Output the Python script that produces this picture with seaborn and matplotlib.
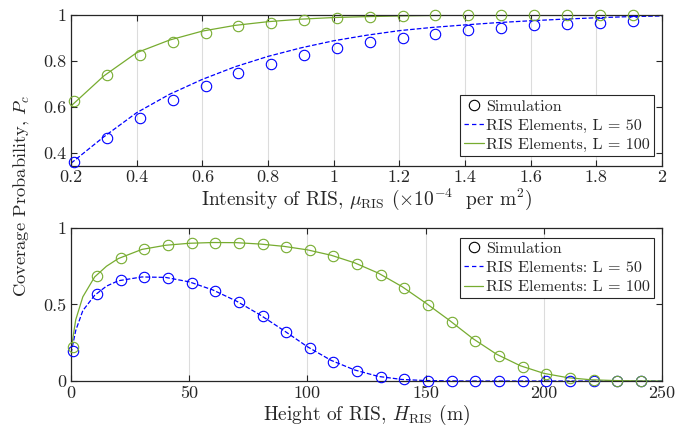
import numpy as np
import pandas as pd
import matplotlib
matplotlib.use("Agg")
import matplotlib.pyplot as plt
from matplotlib.lines import Line2D
import seaborn as sns

sns.set_theme(style="white")
plt.rcParams.update({
    "font.family": ["cmr10", "DejaVu Serif"],
    "mathtext.fontset": "cm",
    "axes.formatter.use_mathtext": True,
    "axes.unicode_minus": False,
})

BLUE = "#0000FF"
GREEN = "#77AC30"

# ---------------- top panel data ----------------
top_line_x = [0.2, 0.3, 0.4, 0.5, 0.6, 0.7, 0.8, 0.9, 1.0, 1.1, 1.2, 1.3, 1.4, 1.5, 1.6, 1.7, 1.8, 1.9, 2.0]
top_line_L50 = [0.355, 0.47, 0.575, 0.655, 0.72, 0.775, 0.82, 0.857, 0.888, 0.912, 0.932, 0.946,
                0.957, 0.967, 0.975, 0.982, 0.988, 0.993, 0.996]
top_line_L100 = [0.604, 0.735, 0.836, 0.891, 0.93, 0.955, 0.971, 0.982, 0.989, 0.993, 0.996, 0.998,
                 0.999, 0.9995, 0.9997, 0.9998, 0.9999, 1.0, 1.0]
top_sim_x = [0.21, 0.31, 0.41, 0.51, 0.61, 0.71, 0.81, 0.91, 1.01, 1.11, 1.21, 1.31, 1.41, 1.51,
             1.61, 1.71, 1.81, 1.91]
top_sim_L50 = [0.36, 0.464, 0.552, 0.63, 0.693, 0.746, 0.788, 0.826, 0.855, 0.883, 0.901, 0.919,
               0.933, 0.943, 0.955, 0.961, 0.967, 0.974]
top_sim_L100 = [0.626, 0.74, 0.826, 0.883, 0.923, 0.951, 0.967, 0.978, 0.987, 0.993, 0.997, 0.998,
                0.998, 0.999, 0.999, 0.999, 0.999, 0.999]
top_xticks = [0.2, 0.4, 0.6, 0.8, 1.0, 1.2, 1.4, 1.6, 1.8, 2.0]
top_xticklabels = ["0.2", "0.4", "0.6", "0.8", "1", "1.2", "1.4", "1.6", "1.8", "2"]
top_yticks = [0.4, 0.6, 0.8, 1.0]
top_yticklabels = ["0.4", "0.6", "0.8", "1"]

# ---------------- bottom panel data ----------------
bot_line_x = [0, 2, 5, 10, 15, 20, 30, 40, 50, 60, 70, 80, 90, 100, 110, 120, 130, 140, 150,
              160, 170, 180, 190, 200, 210, 220, 230, 240, 250]
bot_line_L50 = [0.18, 0.33, 0.46, 0.56, 0.62, 0.655, 0.68, 0.677, 0.648, 0.595, 0.522, 0.432,
                0.33, 0.224, 0.135, 0.072, 0.03, 0.01, 0.003, 0.001, 0.0, 0.0, 0.0, 0.0, 0.0,
                0.0, 0.0, 0.0, 0.0]
bot_line_L100 = [0.2, 0.4, 0.55, 0.68, 0.75, 0.8, 0.86, 0.887, 0.9, 0.905, 0.904, 0.895, 0.88,
                 0.857, 0.822, 0.772, 0.705, 0.617, 0.51, 0.397, 0.277, 0.175, 0.1, 0.05, 0.022,
                 0.008, 0.003, 0.001, 0.0]
bot_sim_x = [1, 11, 21, 31, 41, 51, 61, 71, 81, 91, 101, 111, 121, 131, 141, 151, 161, 171, 181,
             191, 201, 211, 221, 231, 241]
bot_sim_L50 = [0.196, 0.569, 0.658, 0.68, 0.675, 0.643, 0.588, 0.514, 0.423, 0.32, 0.214, 0.126,
               0.067, 0.026, 0.01, 0.003, 0.001, 0.0, 0.0, 0.0, 0.0, 0.0, 0.0, 0.0, 0.0]
bot_sim_L100 = [0.224, 0.686, 0.806, 0.861, 0.887, 0.9, 0.904, 0.904, 0.893, 0.878, 0.854, 0.817,
                0.765, 0.695, 0.606, 0.497, 0.384, 0.264, 0.166, 0.092, 0.046, 0.02, 0.008,
                0.003, 0.001]
bot_xticks = [0, 50, 100, 150, 200, 250]
bot_xticklabels = ["0", "50", "100", "150", "200", "250"]
bot_yticks = [0, 0.5, 1]
bot_yticklabels = ["0", "0.5", "1"]

fig = plt.figure(figsize=(6.94, 4.34), dpi=100)
L, R = 0.1023, 0.954
ax1 = fig.add_axes([L, 0.6175, R - L, 0.9654 - 0.6175])
ax2 = fig.add_axes([L, 0.1221, R - L, 0.4747 - 0.1221])

ms = 7.5
lw = 0.9
mew = 0.8
DASH = (3.5, 2.5)


def draw(ax, lx, l50, l100, sx, s50, s100):
    sns.lineplot(x=lx, y=l50, ax=ax, color=BLUE, linestyle="--", linewidth=lw, dashes=DASH)
    sns.lineplot(x=lx, y=l100, ax=ax, color=GREEN, linestyle="-", linewidth=lw)
    sns.lineplot(x=sx, y=s50, ax=ax, linestyle="none", marker="o", markersize=ms,
                 markerfacecolor="none", markeredgecolor=BLUE, markeredgewidth=mew, color=BLUE,
                 clip_on=False, zorder=3)
    sns.lineplot(x=sx, y=s100, ax=ax, linestyle="none", marker="o", markersize=ms,
                 markerfacecolor="none", markeredgecolor=GREEN, markeredgewidth=mew, color=GREEN,
                 clip_on=False, zorder=3)


draw(ax1, top_line_x, top_line_L50, top_line_L100, top_sim_x, top_sim_L50, top_sim_L100)
draw(ax2, bot_line_x, bot_line_L50, bot_line_L100, bot_sim_x, bot_sim_L50, bot_sim_L100)

ax1.set_xlim(0.2, 2.0)
ax1.set_ylim(0.343, 1.0)
ax1.set_xticks(top_xticks)
ax1.set_xticklabels(top_xticklabels)
ax1.set_yticks(top_yticks)
ax1.set_yticklabels(top_yticklabels)

ax2.set_xlim(0, 250)
ax2.set_ylim(0, 1)
ax2.set_xticks(bot_xticks)
ax2.set_xticklabels(bot_xticklabels)
ax2.set_yticks(bot_yticks)
ax2.set_yticklabels(bot_yticklabels)

for ax in (ax1, ax2):
    ax.grid(True, axis="x", color="#dcdcdc", linewidth=0.8)
    ax.grid(False, axis="y")
    ax.set_axisbelow(True)
    for s in ax.spines.values():
        s.set_visible(True)
        s.set_color("#262626")
        s.set_linewidth(0.9)
        s.set_zorder(2.5)
    ax.tick_params(direction="in", length=4, width=0.8, color="#262626",
                   top=True, right=True, bottom=True, left=True,
                   labelsize=13, labelcolor="#262626", pad=3)
    ax.set_xlabel("")
    ax.set_ylabel("")

ax1.set_xlabel(r"Intensity of RIS, $\mu_{\rm RIS}$ ($\times10^{-4}$  per m$^2$)",
               fontsize=14, color="#262626", labelpad=1)
ax2.set_xlabel(r"Height of RIS, $H_{\rm RIS}$ (m)", fontsize=14, color="#262626", labelpad=2)
fig.text(0.031, 0.548, r"Coverage Probability, $P_c$", rotation=90, fontsize=13.3,
         color="#262626", ha="center", va="center")


def make_legend(ax, sep, loc, anchor):
    handles = [
        Line2D([], [], linestyle="none", marker="o", markersize=ms, markerfacecolor="none",
               markeredgecolor="black", markeredgewidth=mew),
        Line2D([], [], color=BLUE, linestyle="--", linewidth=lw, dashes=DASH),
        Line2D([], [], color=GREEN, linestyle="-", linewidth=lw),
    ]
    labels = ["Simulation", f"RIS Elements{sep} L = 50", f"RIS Elements{sep} L = 100"]
    leg = ax.legend(handles, labels, loc=loc, bbox_to_anchor=anchor, fontsize=11.6,
                    frameon=True, fancybox=False, framealpha=1, edgecolor="#262626",
                    handlelength=1.2, handletextpad=0.15, labelspacing=0.3,
                    borderpad=0.25, borderaxespad=0.0)
    leg.get_frame().set_linewidth(0.8)
    return leg


make_legend(ax1, ",", "lower right", (0.986, 0.066))
make_legend(ax2, ":", "upper right", (0.986, 0.937))

fig.savefig("out.png", dpi=100)
